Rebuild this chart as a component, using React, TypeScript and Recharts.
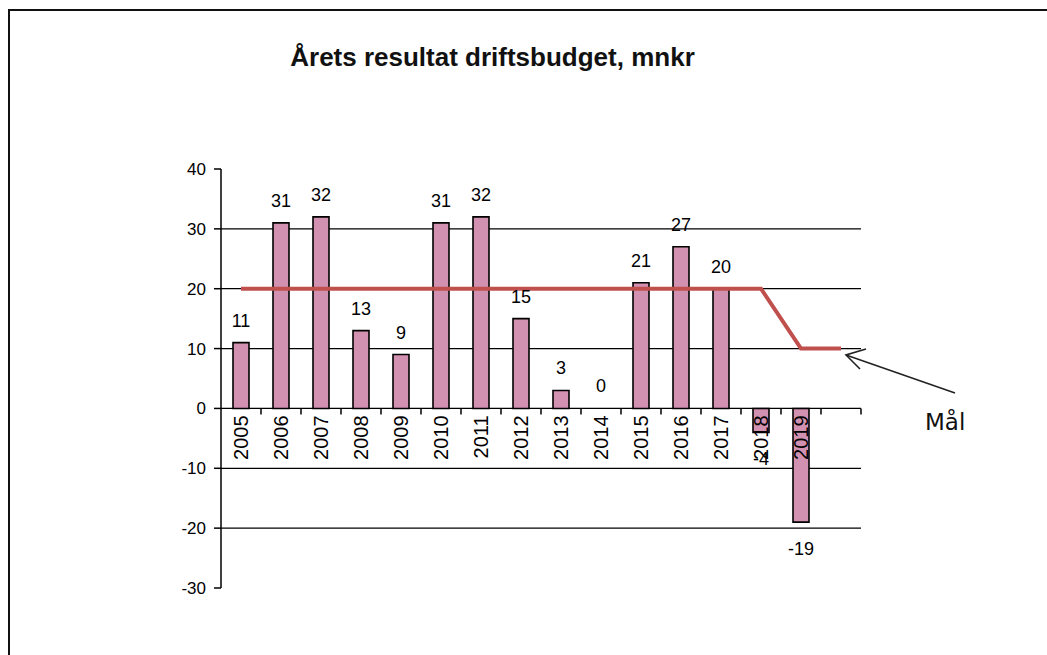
import { ComposedChart, Bar, Line, XAxis, YAxis, CartesianGrid, LabelList } from 'recharts'

const years = ['2005', '2006', '2007', '2008', '2009', '2010', '2011', '2012', '2013', '2014', '2015', '2016', '2017', '2018', '2019', '']
const results = [11, 31, 32, 13, 9, 31, 32, 15, 3, 0, 21, 27, 20, -4, -19, null]
const goal = [20, 20, 20, 20, 20, 20, 20, 20, 20, 20, 20, 20, 20, 20, 10, 10]
const yTicks = [-30, -20, -10, 0, 10, 20, 30, 40]
const gridValues = [-20, -10, 0, 10, 20, 30]

const data = years.map((year, i) => ({ year, value: results[i], goal: goal[i] }))

const W = 1047
const H = 655
const TOP = 169
const BOTTOM = 588
const LEFT = 221
const RIGHT = 861
const Y_MIN = -30
const Y_MAX = 40
const zeroY = TOP + ((Y_MAX - 0) / (Y_MAX - Y_MIN)) * (BOTTOM - TOP)
const band = (RIGHT - LEFT) / years.length

function YearTick(props: any) {
  const { x, payload } = props
  return (
    <g>
      <line x1={x + band / 2} x2={x + band / 2} y1={zeroY} y2={zeroY + 6} stroke="#000" strokeWidth={1.5} />
      {payload.value ? (
        <text
          transform={`translate(${x},${zeroY + 7}) rotate(-90)`}
          textAnchor="end"
          dominantBaseline="central"
          fontSize={20}
          fontFamily="Liberation Sans, Arial, sans-serif"
          fill="#000"
        >
          {payload.value}
        </text>
      ) : null}
    </g>
  )
}

function ValueLabel(props: any) {
  const { x, y, value } = props
  if (value === null || value === undefined) return null
  const ty = value < 0 ? y + 33 : y - 16
  return (
    <text x={x} y={ty} textAnchor="middle" fontSize={18} fontFamily="Liberation Sans, Arial, sans-serif" fill="#000">
      {value}
    </text>
  )
}

export default function App() {
  return (
    <div style={{ position: 'absolute', left: 0, top: 0, width: W, height: H, overflow: 'hidden', background: '#fff' }}>
      <div style={{ position: 'absolute', left: 8, top: 9, width: 1200, height: 800, border: '2px solid #111' }} />
      <div
        style={{
          position: 'absolute',
          left: 0,
          width: 985,
          top: 42,
          textAlign: 'center',
          fontFamily: 'Liberation Sans, Arial, sans-serif',
          fontWeight: 'bold',
          fontSize: 26,
          color: '#111',
        }}
      >
        Årets resultat driftsbudget, mnkr
      </div>
      <div style={{ position: 'absolute', left: 0, top: 0 }}>
        <ComposedChart width={W} height={H} data={data} margin={{ top: TOP, right: W - RIGHT, bottom: H - BOTTOM - 1, left: LEFT - 60 }}>
          <CartesianGrid vertical={false} stroke="#000" strokeWidth={1.3} horizontalValues={gridValues} />
          <XAxis dataKey="year" height={1} axisLine={false} tickLine={false} tick={<YearTick />} interval={0} />
          <YAxis
            width={60}
            domain={[Y_MIN, Y_MAX]}
            ticks={yTicks}
            interval={0}
            axisLine={{ stroke: '#000', strokeWidth: 1.5 }}
            tickLine={{ stroke: '#000', strokeWidth: 1.5 }}
            tickSize={7}
            tickMargin={8}
            tick={{ fontSize: 17, fill: '#000', fontFamily: 'Liberation Sans, Arial, sans-serif' }}
          />
          <Bar dataKey="value" barSize={16} fill="#D291B0" stroke="#000" strokeWidth={1.6} isAnimationActive={false} />
          <Line dataKey="goal" type="linear" stroke="#C0504D" strokeWidth={4} dot={false} isAnimationActive={false} />
          <Line dataKey="value" stroke="none" dot={false} isAnimationActive={false}>
            <LabelList dataKey="value" content={<ValueLabel />} />
          </Line>
        </ComposedChart>
      </div>
      <svg style={{ position: 'absolute', left: 0, top: 0 }} width={W} height={H}>
        <g stroke="#222" strokeWidth={1.6} fill="none">
          <line x1={955} y1={393} x2={846} y2={355} />
          <polyline points="866,349 846,355 860,369" />
        </g>
        <text x={925} y={430} fontSize={23} fontFamily="DejaVu Sans, sans-serif" fill="#111">
          Mål
        </text>
      </svg>
    </div>
  )
}
